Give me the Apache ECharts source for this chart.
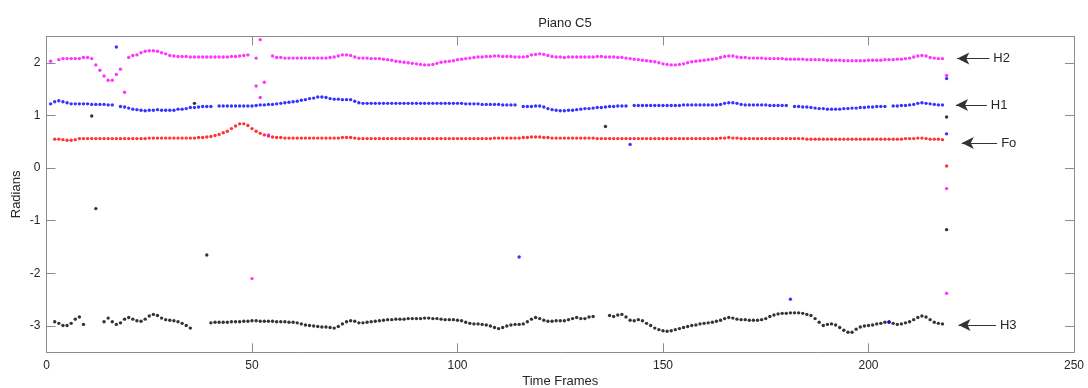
<!DOCTYPE html>
<html>
<head>
<meta charset="utf-8">
<script src="https://cdn.jsdelivr.net/npm/echarts@6/dist/echarts.min.js"></script>
<style>
html,body{margin:0;padding:0;background:#fff;}
#c{width:1088px;height:388px;}
</style>
</head>
<body>
<div id="c"></div>
<script>
// ---- data (frame index starts at 1) ----
var title = 'Piano C5';
var xTicks = [0, 50, 100, 150, 200, 250];
var yTicks = [-3, -2, -1, 0, 1, 2];

var H2 = [
2.03,null,2.06,2.08,2.08,2.08,2.08,2.08,2.10,2.10,
2.08,1.96,1.86,1.75,1.67,1.67,1.78,1.88,1.44,2.10,
2.14,2.15,2.19,2.22,2.23,2.23,2.22,2.19,2.17,2.14,
2.13,2.12,2.12,2.12,2.11,2.11,2.11,2.11,2.11,2.11,
2.11,2.11,2.11,2.11,2.12,2.12,2.13,2.14,2.15,-2.10,
2.09,2.44,1.63,0.63,2.13,2.10,2.10,2.09,2.09,2.09,
2.09,2.09,2.09,2.09,2.09,2.09,2.09,2.09,2.10,2.11,
2.13,2.15,2.15,2.14,2.11,2.09,2.09,2.09,2.08,2.08,
2.08,2.07,2.06,2.05,2.03,2.02,2.01,2.00,1.99,1.98,
1.97,1.96,1.96,1.97,1.99,2.01,2.02,2.03,2.04,2.06,
2.07,2.08,2.09,2.10,2.11,2.11,2.12,2.12,2.13,2.13,
2.12,2.12,2.12,2.11,2.11,2.11,2.12,2.15,2.16,2.17,
2.16,2.14,2.12,2.11,2.11,2.10,2.11,2.11,2.11,2.11,
2.11,2.11,2.11,2.12,2.12,2.11,2.11,2.11,2.10,2.10,
2.09,2.08,2.07,2.06,2.05,2.04,2.03,2.02,2.00,1.98,
1.97,1.96,1.96,1.97,1.98,2.00,2.02,2.03,2.04,2.05,
2.06,2.07,2.08,2.10,2.12,2.13,2.13,2.11,2.10,2.10,
2.09,2.09,2.09,2.09,2.08,2.08,2.08,2.08,2.08,2.07,
2.07,2.07,2.07,2.07,2.06,2.06,2.06,2.06,2.06,2.05,
2.05,2.05,2.05,2.04,2.04,2.04,2.04,2.04,2.04,2.05,
2.05,2.05,2.05,2.06,2.06,2.06,2.07,2.07,2.08,2.09,
2.11,2.13,2.14,2.13,2.10,2.09,2.08,2.08
];
var H1 = [
1.22,1.26,1.28,1.26,1.24,1.22,1.22,1.22,1.22,1.22,
1.21,1.21,1.21,1.21,1.20,1.20,2.30,1.17,1.16,1.14,
1.12,1.11,1.10,1.09,1.10,1.10,1.11,1.10,1.10,1.10,
1.10,1.12,1.12,1.13,1.15,1.15,1.16,1.17,1.17,1.17,
null,1.18,1.18,1.18,1.18,1.18,1.18,1.18,1.18,1.18,
1.19,1.20,1.20,1.21,1.21,1.22,1.23,1.24,1.25,1.26,
1.27,1.29,1.30,1.32,1.33,1.35,1.35,1.34,1.32,1.31,
1.31,1.30,1.30,1.30,1.27,1.24,1.23,1.23,1.23,1.23,
1.23,1.23,1.23,1.23,1.23,1.23,1.23,1.23,1.23,1.23,
1.23,1.23,1.23,1.23,1.23,1.23,1.23,1.23,1.23,1.23,
1.23,1.22,1.22,1.22,1.22,1.21,1.21,1.21,1.21,1.21,
1.20,1.20,1.20,1.20,-1.69,1.17,1.17,1.17,1.18,1.18,
1.16,1.13,1.11,1.10,1.09,1.09,1.10,1.10,1.11,1.12,
1.13,1.13,1.14,1.15,1.15,1.16,1.17,1.17,1.18,1.18,
1.18,0.45,1.19,1.19,1.19,1.19,1.19,1.19,1.19,1.19,
1.19,1.19,1.19,1.19,1.20,1.20,1.20,1.20,1.20,1.20,
1.20,1.20,1.20,1.21,1.23,1.24,1.24,1.23,1.21,1.20,
1.20,1.20,1.20,1.20,1.20,1.19,1.19,1.19,1.19,1.19,
-2.49,1.17,1.17,1.16,1.16,1.15,1.14,1.13,1.13,1.12,
1.12,1.12,1.12,1.13,1.13,1.14,1.14,1.15,1.15,1.16,
1.16,1.17,1.17,1.17,-2.92,1.18,1.18,1.19,1.19,1.20,
1.21,1.23,1.24,1.23,1.22,1.21,1.20,1.20
];
var Fo = [
null,0.55,0.55,0.54,0.53,0.53,0.54,0.56,0.56,0.56,
0.56,0.56,0.56,0.56,0.56,0.56,0.56,0.56,0.56,0.56,
0.56,0.56,0.56,0.56,0.57,0.57,0.57,0.57,0.57,0.57,
0.57,0.57,0.57,0.57,0.57,0.57,0.58,0.58,0.59,0.60,
0.62,0.64,0.67,0.70,0.75,0.80,0.84,0.84,0.81,0.75,
0.70,0.66,0.63,0.61,0.59,0.58,0.58,0.57,0.57,0.57,
0.57,0.57,0.57,0.57,0.57,0.57,0.57,0.57,0.57,0.57,
0.57,0.58,0.58,0.58,0.57,0.56,0.56,0.56,0.56,0.56,
0.56,0.56,0.56,0.56,0.56,0.56,0.56,0.56,0.56,0.56,
0.56,0.56,0.56,0.56,0.56,0.56,0.56,0.56,0.56,0.56,
0.56,0.56,0.56,0.56,0.56,0.56,0.56,0.56,0.57,0.57,
0.57,0.57,0.57,0.57,0.57,0.58,0.58,0.59,0.59,0.59,
0.58,0.58,0.57,0.57,0.57,0.57,0.57,0.57,0.57,0.57,
0.57,0.57,0.57,0.56,0.56,0.56,0.56,0.56,0.56,0.56,
0.56,0.56,0.56,0.56,0.56,0.56,0.56,0.56,0.56,0.56,
0.56,0.56,0.56,0.56,0.56,0.56,0.56,0.56,0.56,0.56,
0.56,0.56,0.56,0.57,0.57,0.58,0.57,0.57,0.56,0.56,
0.56,0.56,0.56,0.56,0.56,0.56,0.56,0.56,0.56,0.56,
0.56,0.56,0.56,0.56,0.55,0.55,0.55,0.55,0.55,0.55,
0.55,0.55,0.55,0.55,0.55,0.55,0.55,0.55,0.55,0.55,
0.55,0.55,0.55,0.55,0.55,0.55,0.55,0.55,0.56,0.56,
0.56,0.57,0.57,0.56,0.55,0.55,0.55,0.54
];
var H3 = [
null,-2.92,-2.95,-2.99,-2.99,-2.95,-2.87,-2.83,-2.97,null,
0.99,-0.77,null,-2.92,-2.85,-2.92,-2.97,-2.94,-2.87,-2.84,
-2.87,-2.90,-2.91,-2.87,-2.81,-2.78,-2.80,-2.85,-2.88,-2.89,
-2.90,-2.92,-2.95,-2.99,-3.04,1.23,null,null,-1.65,-2.94,
-2.93,-2.93,-2.93,-2.93,-2.92,-2.92,-2.92,-2.91,-2.91,-2.90,
-2.90,-2.91,-2.91,-2.91,-2.91,-2.92,-2.92,-2.92,-2.93,-2.93,
-2.94,-2.96,-2.98,-2.99,-3.00,-3.01,-3.02,-3.02,-3.03,-3.04,
-3.01,-2.96,-2.92,-2.90,-2.91,-2.94,-2.94,-2.93,-2.92,-2.91,
-2.90,-2.89,-2.88,-2.88,-2.87,-2.87,-2.87,-2.86,-2.86,-2.86,
-2.86,-2.85,-2.85,-2.86,-2.86,-2.87,-2.88,-2.88,-2.88,-2.89,
-2.90,-2.93,-2.95,-2.96,-2.96,-2.97,-2.98,-3.00,-3.03,-3.05,
-3.03,-3.00,-2.98,-2.97,-2.97,-2.96,-2.92,-2.87,-2.84,-2.86,
-2.89,-2.91,-2.91,-2.90,-2.90,-2.90,-2.88,-2.86,-2.84,-2.86,
-2.86,-2.83,-2.82,null,null,0.79,-2.80,-2.82,-2.79,-2.78,
-2.83,-2.89,-2.90,-2.88,-2.90,-2.95,-2.99,-3.04,-3.07,-3.09,
-3.10,-3.09,-3.07,-3.05,-3.03,-3.01,-2.99,-2.98,-2.96,-2.95,
-2.94,-2.93,-2.91,-2.89,-2.86,-2.84,-2.85,-2.87,-2.88,-2.88,
-2.89,-2.89,-2.89,-2.88,-2.86,-2.82,-2.79,-2.77,-2.76,-2.76,
-2.75,-2.75,-2.75,-2.76,-2.78,-2.80,-2.86,-2.93,-2.99,-2.97,
-2.96,-2.98,-3.03,-3.08,-3.12,-3.12,-3.06,-3.02,-3.00,-2.99,
-2.98,-2.96,-2.95,-2.93,-2.93,-2.95,-2.97,-2.96,-2.94,-2.92,
-2.88,-2.84,-2.81,-2.83,-2.88,-2.93,-2.95,-2.96
];
// extra scattered points [frame, value]
var magentaExtra = [[51, 1.56], [52, 1.34], [219, 1.76], [219, -0.39], [219, -2.38]];
var blueExtra = [[219, 1.70], [219, 0.65]];
var redExtra = [[219, 0.04]];
var blackExtra = [[219, 0.97], [219, -1.17]];

// annotation arrows: [label, headFrame, tailFrame, value]
var notes = [
  ['H2', 221.6, 229.4, 2.08],
  ['H1', 221.3, 228.8, 1.20],
  ['Fo', 222.7, 231.3, 0.475],
  ['H3', 221.9, 231.0, -2.98]
];

function toPts(arr) {
  var out = [];
  for (var i = 0; i < arr.length; i++) {
    if (arr[i] !== null) out.push([i + 1, arr[i]]);
  }
  return out;
}

var FONT = '"Liberation Sans", Arial, Helvetica, sans-serif';
var AX = '#8c8c8c';
var TXT = '#262626';

function dots(name, data, color) {
  return {
    name: name, type: 'scatter', data: data,
    symbol: 'circle', symbolSize: 3.4,
    itemStyle: { color: color },
    silent: true, animation: false, z: 3
  };
}

var series = [
  dots('H3', toPts(H3), '#000000'),
  dots('Fo', toPts(Fo), '#ff0000'),
  dots('H1', toPts(H1), '#0000ff'),
  dots('H2', toPts(H2), '#ff00ff'),
  dots('redExtra', redExtra, '#ff0000'),
  dots('blackExtra', blackExtra, '#000000'),
  dots('blueExtra', blueExtra, '#0000ff'),
  dots('magentaExtra', magentaExtra, '#ff00ff')
];

series.push({
  name: 'notes', type: 'scatter', data: [], silent: true, animation: false,
  markLine: {
    silent: true, animation: false,
    symbol: ['arrow', 'none'], symbolSize: [9, 12],
    lineStyle: { color: '#333', width: 1, type: 'solid' },
    label: {
      show: true, position: 'end', distance: 4,
      color: TXT, fontFamily: FONT, fontSize: 13,
      formatter: function (p) { return p.data.name; }
    },
    data: notes.map(function (n) {
      return [
        { coord: [n[1], n[3]], name: n[0] },
        { coord: [n[2], n[3]], name: n[0] }
      ];
    })
  }
});

var chart = echarts.init(document.getElementById('c'), null, { renderer: 'canvas' });
chart.setOption({
  backgroundColor: '#ffffff',
  animation: false,
  title: {
    text: title, left: 560, top: 12, textAlign: 'center',
    textStyle: { fontFamily: FONT, fontSize: 13, fontWeight: 'normal', color: TXT }
  },
  grid: { left: 46.5, right: 14, top: 36.5, bottom: 35.7, containLabel: false, outerBoundsMode: 'none' },
  xAxis: [{
    type: 'value', min: 0, max: 250, interval: 50, position: 'bottom',
    name: 'Time Frames', nameLocation: 'middle', nameGap: 23, nameMoveOverlap: false,
    nameTextStyle: { fontFamily: FONT, fontSize: 13, color: TXT },
    axisLine: { show: true, onZero: false, lineStyle: { color: AX, width: 1 } },
    axisTick: { show: true, inside: true, length: 9, lineStyle: { color: AX } },
    axisLabel: { fontFamily: FONT, fontSize: 12, color: TXT, margin: 7,
      customValues: xTicks },
    splitLine: { show: false }
  }, {
    type: 'value', min: 0, max: 250, interval: 50, position: 'top',
    axisLine: { show: true, onZero: false, lineStyle: { color: AX, width: 1 } },
    axisTick: { show: true, inside: true, length: 9, lineStyle: { color: AX } },
    axisLabel: { show: false },
    splitLine: { show: false }
  }],
  yAxis: [{
    type: 'value', min: -3.5, max: 2.5, position: 'left',
    name: 'Radians', nameLocation: 'middle', nameGap: 24, nameRotate: 90, nameMoveOverlap: false,
    nameTextStyle: { fontFamily: FONT, fontSize: 13, color: TXT },
    axisLine: { show: true, onZero: false, lineStyle: { color: AX, width: 1 } },
    axisTick: { show: true, inside: true, length: 9, lineStyle: { color: AX }, customValues: yTicks },
    axisLabel: { fontFamily: FONT, fontSize: 12, color: TXT, margin: 6, customValues: yTicks },
    splitLine: { show: false }
  }, {
    type: 'value', min: -3.5, max: 2.5, position: 'right',
    axisLine: { show: true, onZero: false, lineStyle: { color: AX, width: 1 } },
    axisTick: { show: true, inside: true, length: 9, lineStyle: { color: AX }, customValues: yTicks },
    axisLabel: { show: false },
    splitLine: { show: false }
  }],
  series: series
});
</script>
</body>
</html>
